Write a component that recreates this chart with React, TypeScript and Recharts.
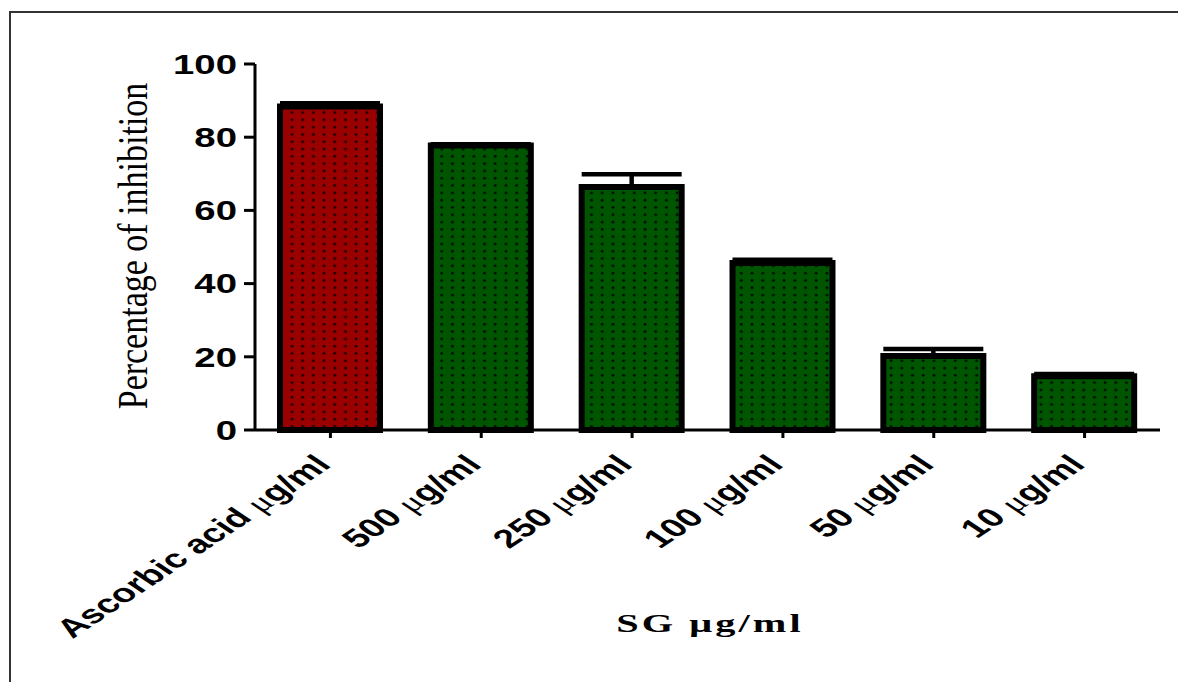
import { Bar, BarChart, Cell, ErrorBar, XAxis, YAxis } from 'recharts'

const categories = [
  'Ascorbic acid μg/ml',
  '500 μg/ml',
  '250 μg/ml',
  '100 μg/ml',
  '50 μg/ml',
  '10 μg/ml',
]
const inhibition = [88.4, 77.7, 66.4, 45.6, 20.2, 14.7]
const sem = [0.9, 0.4, 3.5, 0.9, 1.9, 0.6]
const yTicks = [0, 20, 40, 60, 80, 100]

const data = categories.map((name, i) => ({
  name,
  value: inhibition[i],
  err: [0, sem[i]],
}))

const SANS = '"Liberation Sans", Arial, sans-serif'
const SERIF = '"Liberation Serif", "Times New Roman", serif'

function XTick(props: any) {
  const { x, y, payload } = props
  const label: string = payload.value
  const idx = label.indexOf(' μ')
  const head = label.slice(0, idx)
  const tail = label.slice(idx + 2)
  return (
    <text
      transform={`translate(${x + 2},${y + 28}) scale(1.5,1) rotate(-45)`}
      textAnchor="end"
      fontFamily={SANS}
      fontWeight="bold"
      fontSize={26}
      fill="#000"
    >
      {head + ' '}
      <tspan fontFamily={SERIF} fontWeight="normal">μ</tspan>
      {tail}
    </text>
  )
}

function YTick(props: any) {
  const { x, y, payload } = props
  return (
    <text
      transform={`translate(${x - 7},${y}) scale(1.42,1)`}
      textAnchor="end"
      dy="0.36em"
      fontFamily={SANS}
      fontWeight="bold"
      fontSize={27}
      fill="#000"
    >
      {payload.value}
    </text>
  )
}

export default function App() {
  return (
    <div style={{ position: 'absolute', left: 0, top: 0, width: 1178, height: 682, background: '#fff', overflow: 'hidden' }}>
      <div
        style={{
          position: 'absolute',
          left: 9,
          top: 11,
          width: 1200,
          height: 700,
          borderTop: '2px solid #333',
          borderLeft: '2px solid #333',
        }}
      />
      <div style={{ position: 'absolute', left: 0, top: 0 }}>
        <BarChart
          width={1178}
          height={682}
          data={data}
          margin={{ top: 64, right: 18, left: 155, bottom: 0 }}
        >
          <defs>
            <pattern id="dotsRed" width="10.7" height="7.3" patternUnits="userSpaceOnUse">
              <rect width="10.7" height="7.3" fill="#9a0000" />
              <circle cx="3" cy="3" r="1.4" fill="#000" fillOpacity={0.85} />
            </pattern>
            <pattern id="dotsGreen" width="10.7" height="7.3" patternUnits="userSpaceOnUse">
              <rect width="10.7" height="7.3" fill="#005600" />
              <circle cx="3" cy="3" r="1.4" fill="#000" fillOpacity={0.85} />
            </pattern>
          </defs>
          <XAxis
            dataKey="name"
            height={252}
            interval={0}
            tickSize={8}
            tickMargin={0}
            axisLine={{ stroke: '#000', strokeWidth: 3 }}
            tickLine={{ stroke: '#000', strokeWidth: 3 }}
            tick={<XTick />}
            label={{
              content: () => (
                <text
                  transform="translate(710,632) scale(1.55,1)"
                  textAnchor="middle"
                  fontFamily={SERIF}
                  fontWeight="bold"
                  fontSize={26}
                  letterSpacing={2}
                  fill="#000"
                >
                  SG μg/ml
                </text>
              ),
            }}
          />
          <YAxis
            width={100}
            domain={[0, 100]}
            ticks={yTicks}
            interval={0}
            tickSize={11}
            tickMargin={0}
            axisLine={{ stroke: '#000', strokeWidth: 3 }}
            tickLine={{ stroke: '#000', strokeWidth: 3 }}
            tick={<YTick />}
            label={{
              content: () => (
                <text
                  transform="translate(147,246) scale(1.25,1) rotate(-90)"
                  textAnchor="middle"
                  fontFamily={SERIF}
                  fontSize={34}
                  fill="#000"
                >
                  Percentage of inhibition
                </text>
              ),
            }}
          />
          <Bar
            dataKey="value"
            barSize={100}
            stroke="#000"
            strokeWidth={6}
            isAnimationActive={false}
          >
            {data.map((d, i) => (
              <Cell key={d.name} fill={i === 0 ? 'url(#dotsRed)' : 'url(#dotsGreen)'} />
            ))}
            <ErrorBar dataKey="err" direction="y" width={50} stroke="#000" strokeWidth={4.5} />
          </Bar>
        </BarChart>
      </div>
    </div>
  )
}
